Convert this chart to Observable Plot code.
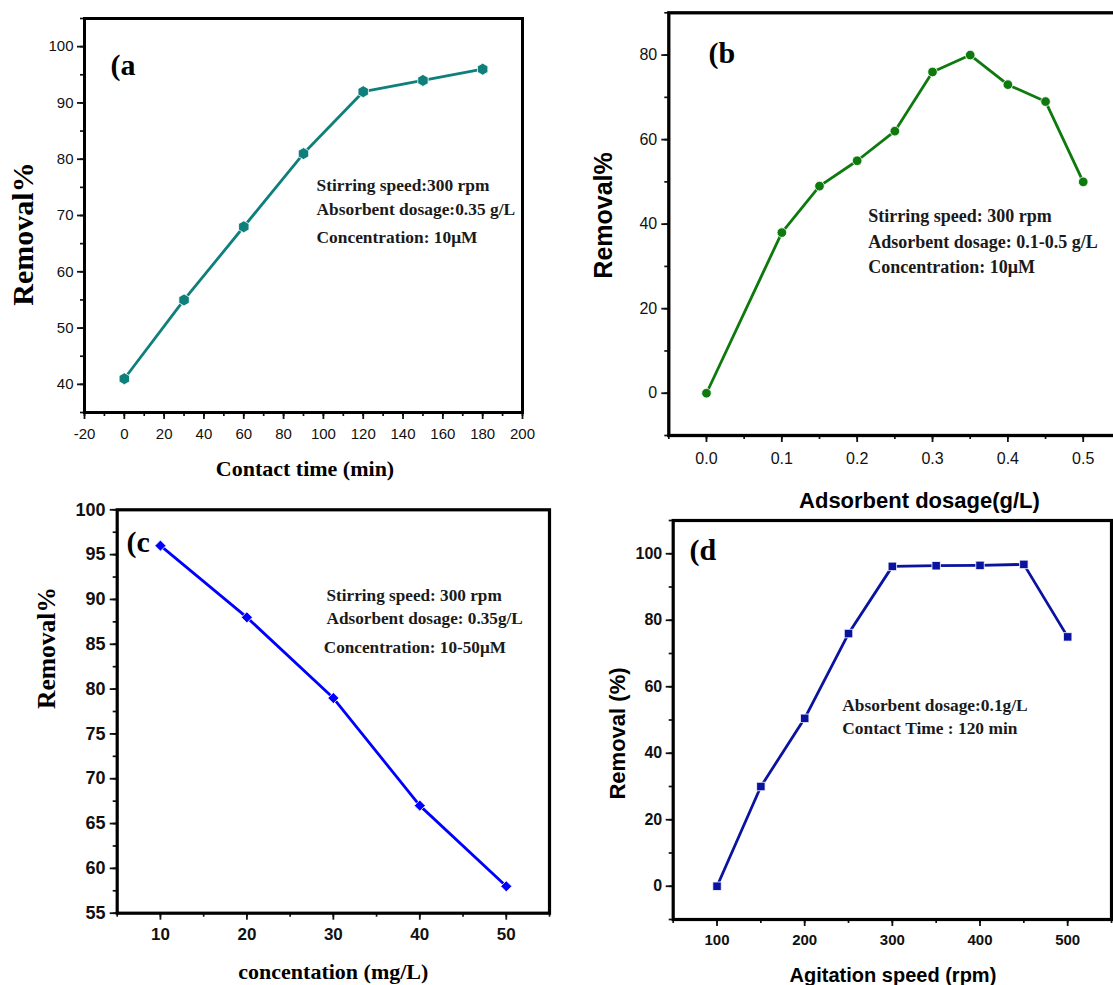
<!DOCTYPE html>
<html>
<head>
<meta charset="utf-8">
<script src="https://cdn.jsdelivr.net/npm/d3@7"></script>
<script src="https://cdn.jsdelivr.net/npm/@observablehq/plot@0.6"></script>
<style>
html,body{margin:0;padding:0;background:#fff;overflow:hidden;}
#wrap{position:relative;width:1113px;height:985px;overflow:hidden;background:#fff;}
.panel{position:absolute;}
.panel svg{background:transparent !important;overflow:visible;max-width:none !important;}
</style>
</head>
<body>
<div id="wrap"></div>
<script>
// ---- Panel (a): contact time ----
const timeA = [0, 30, 60, 90, 120, 150, 180];
const removalA = [41, 55, 68, 81, 92, 94, 96];
const aXTicks = [-20, 0, 20, 40, 60, 80, 100, 120, 140, 160, 180, 200];
const aYTicks = [40, 50, 60, 70, 80, 90, 100];
const aNotes = ["Stirring speed:300 rpm", "Absorbent dosage:0.35 g/L", "Concentration: 10μM"];

// ---- Panel (b): adsorbent dosage ----
const dosageB = [0, 0.1, 0.15, 0.2, 0.25, 0.3, 0.35, 0.4, 0.45, 0.5];
const removalB = [0, 38, 49, 55, 62, 76, 80, 73, 69, 50];
const bXTicks = [0, 0.1, 0.2, 0.3, 0.4, 0.5];
const bYTicks = [0, 20, 40, 60, 80];
const bNotes = ["Stirring speed: 300 rpm", "Adsorbent dosage: 0.1-0.5 g/L", "Concentration: 10μM"];

// ---- Panel (c): concentration ----
const concC = [10, 20, 30, 40, 50];
const removalC = [96, 88, 79, 67, 58];
const cXTicks = [10, 20, 30, 40, 50];
const cYTicks = [55, 60, 65, 70, 75, 80, 85, 90, 95, 100];
const cNotes = ["Stirring speed: 300 rpm", "Adsorbent dosage: 0.35g/L", "Concentration: 10-50μM"];

// ---- Panel (d): agitation speed ----
const speedD = [100, 150, 200, 250, 300, 350, 400, 450, 500];
const removalD = [0, 30, 50.5, 76, 96.2, 96.4, 96.5, 96.8, 75];
const dXTicks = [100, 200, 300, 400, 500];
const dYTicks = [0, 20, 40, 60, 80, 100];
const dNotes = ["Absorbent dosage:0.1g/L", "Contact Time : 120 min"];

const SERIF = "'Liberation Serif', 'Times New Roman', serif";
const SANS = "'Liberation Sans', Arial, sans-serif";
const range = (a, b, s) => d3.range(a, b + s / 2, s).map(v => +v.toFixed(4));

function panel(cfg) {
  const data = d3.zip(cfg.xs, cfg.ys).map(([x, y]) => ({x, y}));
  const [mt, mr, mb, ml] = cfg.margins;
  const txt = (s, o) => Plot.text([s], {text: d => d, frameAnchor: o.anchor || "top-left",
    dx: o.dx, dy: o.dy, textAnchor: o.textAnchor || "start", lineAnchor: "middle",
    rotate: o.rotate || 0, fontFamily: o.font, fontSize: o.size, fontWeight: "bold", fill: o.fill || "#111"});
  const notes = cfg.notes.map((s, i) => txt(s, {dx: cfg.noteDx[i], dy: cfg.noteDy[i], font: SERIF, size: cfg.noteSize, fill: "#1a1a1a"}));
  const svg = Plot.plot({
    width: cfg.width, height: cfg.height,
    marginTop: mt, marginRight: mr, marginBottom: mb, marginLeft: ml,
    x: {domain: cfg.xDomain},
    y: {domain: cfg.yDomain},
    style: {fontFamily: SANS, fontSize: cfg.tickFont + "px", fontWeight: cfg.tickBold ? "bold" : "normal", color: "#111", background: "transparent", overflow: "visible"},
    marks: [
      Plot.axisX({ticks: cfg.xMinor, tickSize: 4, fill: "none", strokeWidth: 1.7, label: null}),
      Plot.axisY({ticks: cfg.yMinor, tickSize: 4, fill: "none", strokeWidth: 1.7, label: null}),
      Plot.axisX({ticks: cfg.xMajor, tickSize: cfg.tickSize, tickPadding: cfg.xPad, strokeWidth: 1.8,
        tickFormat: cfg.xFmt, label: null, fontSize: cfg.xTickFont || cfg.tickFont}),
      Plot.axisY({ticks: cfg.yMajor, tickSize: cfg.tickSize, tickPadding: cfg.yPad, strokeWidth: 1.8,
        tickFormat: cfg.yFmt, label: null, fontSize: cfg.yTickFont || cfg.tickFont}),
      Plot.line(data, {x: "x", y: "y", stroke: cfg.color, strokeWidth: 2.8}),
      Plot.dot(data, {x: "x", y: "y", r: cfg.r, symbol: cfg.symbol, fill: cfg.color, stroke: "white", strokeWidth: 0.8}),
      Plot.frame({stroke: "#000", strokeWidth: cfg.frameW}),
      txt(cfg.tag, {dx: cfg.tagDx, dy: cfg.tagDy, font: SERIF, size: 30, fill: "#000"}),
      ...notes,
      txt(cfg.xTitle, {anchor: "bottom", dx: cfg.xTitleDx, dy: cfg.xTitleDy, textAnchor: "middle", font: cfg.xTitleFont, size: cfg.xTitleSize, fill: "#000"}),
      txt(cfg.yTitle, {anchor: "left", dx: cfg.yTitleDx, dy: cfg.yTitleDy, textAnchor: "middle", rotate: -90, font: cfg.yTitleFont, size: cfg.yTitleSize, fill: "#000"})
    ]
  });
  const div = document.createElement("div");
  div.className = "panel";
  div.style.left = cfg.left + "px";
  div.style.top = cfg.top + "px";
  div.style.width = cfg.width + "px";
  div.style.height = cfg.height + "px";
  div.appendChild(svg);
  document.getElementById("wrap").appendChild(div);
}

const fmtInt = d => String(d);

panel({
  left: 0, top: 0, width: 560, height: 480, margins: [18, 38, 68, 84],
  xDomain: [-20, 200], yDomain: [35, 105],
  xs: timeA, ys: removalA, color: "#0f7f7c", symbol: "hexagon", r: 5.2,
  xMajor: aXTicks, xMinor: range(-20, 200, 10), yMajor: aYTicks, yMinor: range(35, 105, 5),
  xFmt: fmtInt, yFmt: fmtInt, tickFont: 15, tickBold: false, tickSize: 7, xPad: 9, yPad: 4,
  frameW: 3,
  tag: "(a", tagDx: 26, tagDy: 47,
  notes: aNotes, noteDx: [232, 232, 232], noteDy: [167, 191, 219], noteSize: 17.4,
  xTitle: "Contact time (min)", xTitleDx: 1.5, xTitleDy: 56, xTitleFont: SERIF, xTitleSize: 22,
  yTitle: "Removal%", yTitleDx: -61, yTitleDy: 18.5, yTitleFont: SERIF, yTitleSize: 30
});

panel({
  left: 560, top: 0, width: 600, height: 520, margins: [12.3, 39.6, 85, 108.3],
  xDomain: [-0.05, 0.55], yDomain: [-10, 90],
  xs: dosageB, ys: removalB, color: "#0e7a0e", symbol: "circle", r: 4.8,
  xMajor: bXTicks, xMinor: range(-0.05, 0.55, 0.05), yMajor: bYTicks, yMinor: range(-10, 90, 10),
  xFmt: d3.format(".1f"), yFmt: fmtInt, tickFont: 16, tickBold: false, tickSize: 7, xPad: 10, yPad: 4.6,
  frameW: 3.3,
  tag: "(b", tagDx: 39.7, tagDy: 40.7,
  notes: bNotes, noteDx: [199.4, 199.4, 199.4], noteDy: [203.7, 229.7, 254.7], noteSize: 18,
  xTitle: "Adsorbent dosage(g/L)", xTitleDx: 24.6, xTitleDy: 65, xTitleFont: SANS, xTitleSize: 22,
  yTitle: "Removal%", yTitleDx: -65.3, yTitleDy: -8.7, yTitleFont: SANS, yTitleSize: 25
});

panel({
  left: 0, top: 480, width: 560, height: 505, margins: [29.3, 11, 72.3, 116.7],
  xDomain: [5, 55], yDomain: [55, 100],
  xs: concC, ys: removalC, color: "#0000ff", symbol: d3.symbolDiamond2 || "diamond", r: 5,
  xMajor: cXTicks, xMinor: range(5, 55, 5), yMajor: cYTicks, yMinor: range(55, 100, 2.5),
  xFmt: fmtInt, yFmt: fmtInt, tickFont: 18, xTickFont: 17, tickBold: true, tickSize: 7, xPad: 8, yPad: 4.7,
  frameW: 3.2,
  tag: "(c", tagDx: 9.3, tagDy: 32.4,
  notes: cNotes, noteDx: [209.3, 209.3, 206.6], noteDy: [85.7, 109, 137.4], noteSize: 17.2,
  xTitle: "concentation (mg/L)", xTitleDx: 0, xTitleDy: 59, xTitleFont: SERIF, xTitleSize: 22,
  yTitle: "Removal%", yTitleDx: -70.7, yTitleDy: -63.5, yTitleFont: SERIF, yTitleSize: 25.5
});

panel({
  left: 560, top: 500, width: 553, height: 485, margins: [20, 2, 66, 112.7],
  xDomain: [50, 550], yDomain: [-10, 110],
  xs: speedD, ys: removalD, color: "#0a12a0", symbol: d3.symbolSquare2 || "square", r: 5.4,
  xMajor: dXTicks, xMinor: range(50, 550, 50), yMajor: dYTicks, yMinor: range(-10, 110, 10),
  xFmt: fmtInt, yFmt: fmtInt, tickFont: 16, xTickFont: 15, tickBold: true, tickSize: 7, xPad: 8, yPad: 4,
  frameW: 3.2,
  tag: "(d", tagDx: 16.3, tagDy: 30,
  notes: dNotes, noteDx: [169, 169], noteDy: [185, 208.3], noteSize: 17.4,
  xTitle: "Agitation speed (rpm)", xTitleDx: 0.6, xTitleDy: 56, xTitleFont: SANS, xTitleSize: 20,
  yTitle: "Removal (%)", yTitleDx: -55.7, yTitleDy: 13.5, yTitleFont: SANS, yTitleSize: 22
});
</script>
</body>
</html>
